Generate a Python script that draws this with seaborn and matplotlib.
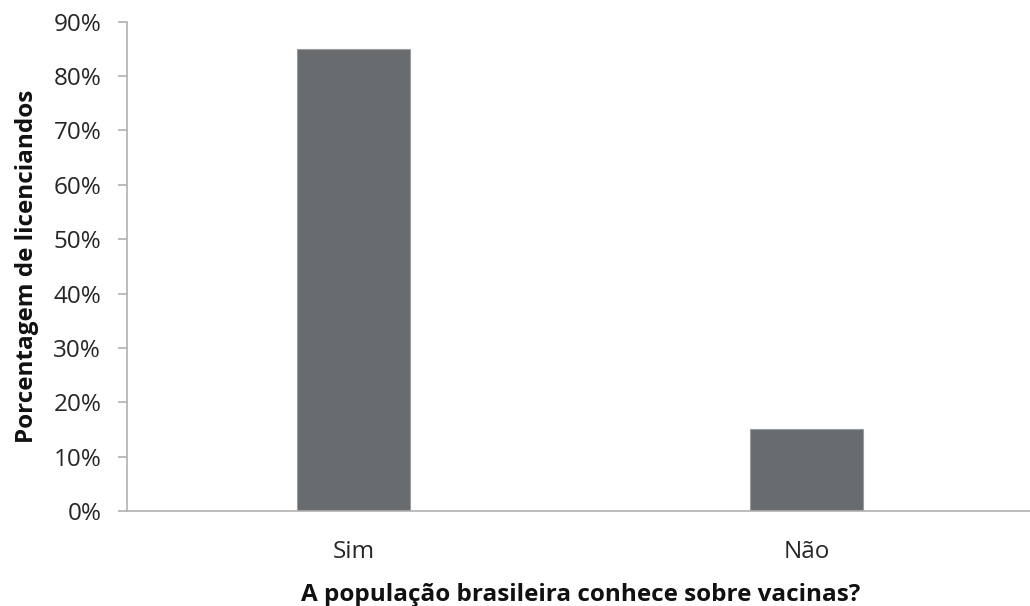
import matplotlib
matplotlib.use("Agg")
import matplotlib.pyplot as plt
import seaborn as sns
import pandas as pd
from matplotlib.ticker import PercentFormatter

categories = ["Sim", "Não"]
percentages = [85, 15]

df = pd.DataFrame({"resposta": categories, "pct": percentages})

sns.set_theme(style="white")
plt.rcParams["font.family"] = ["Open Sans", "DejaVu Sans"]

fig = plt.figure(figsize=(10.30, 6.06), dpi=100)
ax = fig.add_axes([0.1233, 0.157, 0.88, 0.807])

sns.barplot(data=df, x="resposta", y="pct", color="#696C6F", width=0.25,
            edgecolor="#9A9C9E", linewidth=0.8, saturation=1, ax=ax)

ax.set_ylim(0, 90)
ax.set_xlim(-0.5, 1.5)
ax.set_yticks(range(0, 91, 10))
ax.yaxis.set_major_formatter(PercentFormatter(decimals=0))

for s in ["top", "right"]:
    ax.spines[s].set_visible(False)
for s in ["left", "bottom"]:
    ax.spines[s].set_color("#B0B0B0")
    ax.spines[s].set_linewidth(1.2)

ax.tick_params(axis="y", which="major", left=True, length=6.5, width=1.2,
               color="#B0B0B0", labelsize=17.5, labelcolor="#262626", pad=12)
ax.tick_params(axis="x", bottom=False, labelsize=17.5, labelcolor="#262626", pad=15)

ax.set_xlabel("A população brasileira conhece sobre vacinas?", fontsize=17.5,
              fontweight="bold", color="#111111", labelpad=14)
ax.set_ylabel("Porcentagem de licenciandos", fontsize=17.5, fontweight="bold",
              color="#111111", labelpad=10)

fig.savefig("out.png", dpi=100, facecolor="white")
